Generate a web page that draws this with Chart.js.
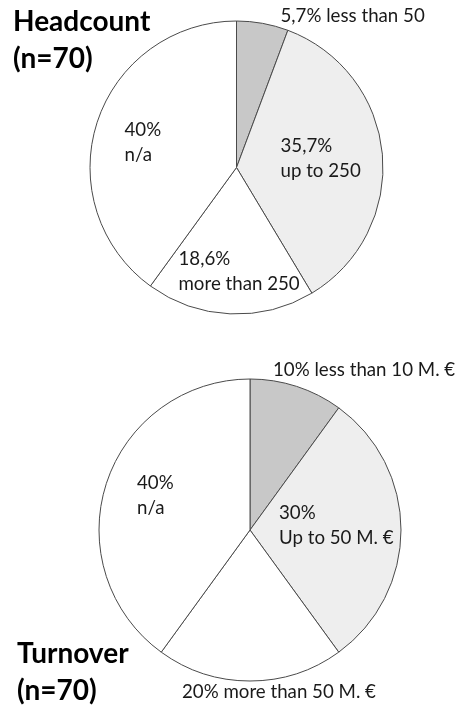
<!DOCTYPE html>
<html>
<head>
<meta charset="utf-8">
<script src="https://cdn.jsdelivr.net/npm/chart.js@4/dist/chart.umd.min.js"></script>
<style>
  html, body { margin: 0; padding: 0; background: #fff; }
  body { width: 460px; height: 706px; position: relative; overflow: hidden; font-family: Lato, "Noto Sans", sans-serif; }
  .pane { position: absolute; left: 0; width: 460px; height: 353px; }
  .title { position: absolute; font-weight: 700; font-size: 28px; line-height: 37px; color: #000; }
</style>
</head>
<body>
<div class="pane" style="top:0"><canvas id="headcount" width="460" height="353"></canvas></div>
<div class="pane" style="top:353px"><canvas id="turnover" width="460" height="353"></canvas></div>
<div class="title" style="left:13px; top:2px">Headcount<br>(n=70)</div>
<div class="title" style="left:17px; top:634px">Turnover<br>(n=70)</div>
<script>
// Headcount of the responding companies (share in %)
const headcountCategories = ['less than 50', 'up to 250', 'more than 250', 'n/a'];
const headcountValues = [5.7, 35.7, 18.6, 40];

// Turnover of the responding companies (share in %)
const turnoverCategories = ['less than 10 M. €', 'Up to 50 M. €', 'more than 50 M. €', 'n/a'];
const turnoverValues = [10, 30, 20, 40];

const sliceColors = ['#c8c8c8', '#eeeeee', '#ffffff', '#ffffff'];

const fmt = v => String(v).replace('.', ',') + '%';

// Writes the slice labels; each slice gets an offset from the pie centre,
// and either a single line ("12% text") or two lines ("12%" / "text").
const sliceLabels = {
  id: 'sliceLabels',
  afterDatasetsDraw(chart, args, opts) {
    const ctx = chart.ctx;
    const meta = chart.getDatasetMeta(0);
    const values = chart.data.datasets[0].data;
    const cats = chart.data.labels;
    ctx.save();
    ctx.fillStyle = '#1a1a1a';
    ctx.font = opts.font;
    ctx.textAlign = 'left';
    ctx.textBaseline = 'middle';
    meta.data.forEach((arc, i) => {
      const p = opts.places[i];
      const x = arc.x + p.dx, y = arc.y + p.dy;
      if (p.inline) {
        ctx.fillText(fmt(values[i]) + ' ' + cats[i], x, y);
      } else {
        ctx.fillText(fmt(values[i]), x, y);
        ctx.fillText(cats[i], x, y + opts.lineGap);
      }
    });
    ctx.restore();
  }
};

function pie(id, labels, values, radius, padding, places) {
  return new Chart(document.getElementById(id), {
    type: 'pie',
    data: {
      labels: labels,
      datasets: [{
        data: values,
        backgroundColor: sliceColors,
        borderColor: '#4a4a4a',
        borderWidth: 1,
        borderAlign: 'center'
      }]
    },
    options: {
      responsive: false,
      animation: false,
      events: [],
      radius: radius,
      layout: { padding: padding },
      plugins: {
        legend: { display: false },
        tooltip: { enabled: false },
        sliceLabels: { font: '18.7px Lato, "Noto Sans", sans-serif', lineGap: 25, places: places }
      }
    },
    plugins: [sliceLabels]
  });
}

pie('headcount', headcountCategories, headcountValues, 146.5,
  { left: 90, right: 77, top: 21, bottom: 39 },
  [
    { dx: 44, dy: -152, inline: true },
    { dx: 44, dy: -22 },
    { dx: -58, dy: 91 },
    { dx: -112, dy: -38 }
  ]);

pie('turnover', turnoverCategories, turnoverValues, 151,
  { left: 99, right: 59, top: 26, bottom: 25 },
  [
    { dx: 23, dy: -160, inline: true },
    { dx: 29, dy: -17 },
    { dx: -68, dy: 162, inline: true },
    { dx: -113, dy: -47 }
  ]);
</script>
</body>
</html>
